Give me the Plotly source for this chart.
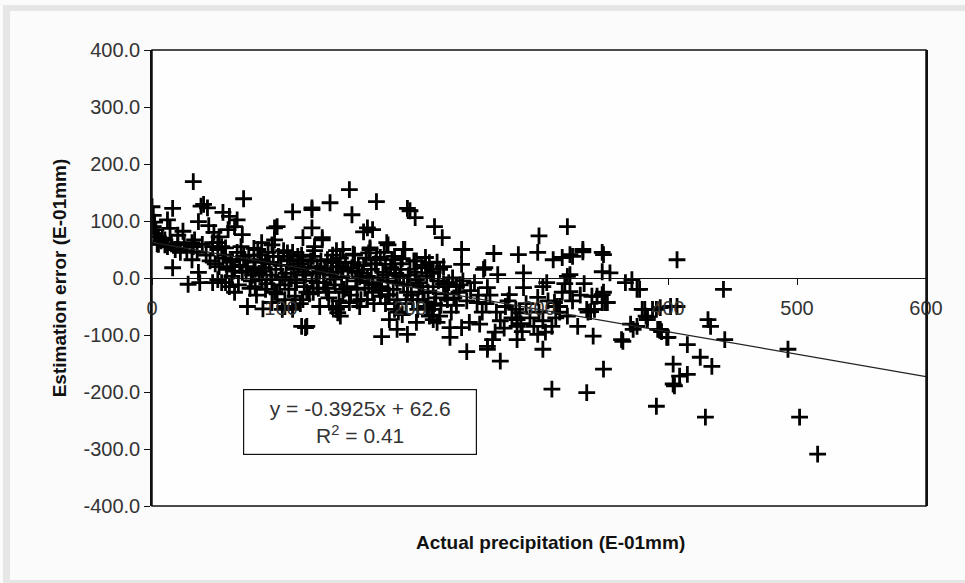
import plotly.graph_objects as go

# ---- data (actual precipitation, estimation error), units E-01mm ----
precip_left = [0, 1, 2, 1, 3, 2, 5, 7, 4, 10, 12, 16, 12, 14, 32, 40, 43, 38, 36, 16, 31, 28, 37, 47, 54, 60,
               33, 32, 47, 54, 51, 10, 5, 20, 31, 39, 47, 51, 57, 36, 55, 8, 15, 18, 22, 25, 27, 35, 42, 45,
               49, 52, 55, 20, 24, 44, 48, 52, 57, 58, 51, 57]
error_left = [125, 110, 98, 90, 85, 78, 72, 65, 60, 58, 55, 122, 102, 87, 169, 129, 123, 126, 99, 18, 32, -11, -8, -8, -8, -15,
              67, 55, 62, 55, 50, 67, 59, 62, 62, 59, 55, 62, 53, 10, 115, 70, 60, 50, 45, 58, 48, 45, 40, 30,
              25, 20, 35, 75, 82, 92, 80, 72, 40, 15, -3, -8]

precip_upper = [60, 66, 70, 59, 71, 109, 124, 124, 138, 153, 155, 174, 167, 164, 171, 198, 200, 204, 219, 225,
                182, 95, 95, 132, 117, 124, 183, 85, 97, 64]
error_upper = [108, 102, 76, 85, 139, 116, 120, 88, 132, 155, 111, 134, 88, 81, 85, 122, 118, 106, 90, 71,
               62, 88, 67, 71, 71, 123, 58, 62, 90, 90]

precip_dense = [169, 196, 148, 132, 177, 186, 181, 212, 226, 169, 195,
                117, 128, 140, 148, 159, 167, 117, 125, 136, 143, 156, 192, 205, 213, 218, 229, 236, 218, 208, 200, 215,
                62, 72, 64, 62, 70, 80, 85, 90, 98, 105, 113, 85, 93, 103, 111, 80, 88, 95, 103, 111, 93, 101, 109, 64, 82,
                61, 66, 68, 73, 75, 77, 79, 83, 84, 87, 89, 91, 92, 96, 99, 100, 102, 104, 106, 107, 110, 112, 114,
                115, 118, 119, 121, 122, 124, 126, 127, 129, 131, 133, 134, 137, 138, 140, 142, 144, 145, 147, 150,
                151, 152, 154, 157, 158, 160, 162, 163, 165, 166, 168, 170, 172, 173, 175, 176, 179, 180, 181, 183,
                185, 187, 189, 191, 193, 195, 197, 199, 201, 203, 206, 207, 209, 211, 214, 216, 217, 220, 222, 224,
                227, 230, 232, 234, 238]
error_dense = [53, 50, 50, 67, 36, 32, 24, 36, 20, 50, 50,
               10, 20, 10, 15, 10, 3, 32, 38, 32, 27, 27, 3, -3, 3, 10, -15, -15, -15, -15, 15, 27,
               32, 32, 20, 3, 10, 15, 32, 45, 38, 32, 38, -3, -3, -3, -3, -15, -20, -25, -38, -32, -43, -55, -55, -25, 50,
               28, 45, 22, 12, 40, -5, 28, 8, 40, 18, -10, 25, 5, 15, -12, 22, 48, 8, -20, 30, 15, -8, 25,
               -45, -15, 5, 18, -28, -5, 48, 8, -18, 30, -8, 15, -35, 5, 40, -12, 20, -40, 2, 28,
               -15, 12, -30, 40, -5, 22, -38, 8, -18, 35, -8, 15, -45, 25, 0, -20, 10, 45, -45, -5,
               18, -20, 8, -60, 25, -12, -45, 5, -30, 30, -55, -8, 18, -42, -25, 8, -65, -35, -5, -48,
               -28, -8, -60, -35, -25]

precip_fill = [63, 67, 71, 74, 76, 78, 81, 86, 88, 94, 97, 101, 105, 108, 113, 116, 120, 123, 128, 130,
               135, 139, 141, 146, 149, 155, 159, 161, 164, 171, 174, 178, 182, 184, 188, 190, 194, 198, 202, 204,
               210, 212, 219, 223, 226, 229, 233, 236, 239, 69, 79, 93, 109, 126, 143, 156, 168, 188, 205, 221]
error_fill = [12, -12, 38, 20, -18, 5, -30, 12, 28, 38, -28, 2, 44, -2, 20, 40, -25, 30, -8, 12,
              -18, 28, -2, 35, -20, 18, -40, 2, 22, -12, 32, -22, 5, -30, 15, -8, 34, -12, -38, 10,
              -25, 22, -45, 15, -10, -38, 0, -48, -12, 55, 52, 58, 45, 55, 48, 42, 44, 38, 30, 28]

precip_lower = [74, 86, 119, 178, 198, 146, 143, 103, 109, 116, 120, 190, 205, 144, 140, 231, 231, 221, 223, 218,
                213, 206, 198, 190, 183, 177, 188, 194, 184, 177, 171, 167, 159, 148, 136, 125, 117, 130, 153, 161,
                215, 218, 146, 244]
error_lower = [-50, -54, -87, -103, -99, -67, -55, -50, -50, -85, -85, -90, -78, -61, -50, -87, -104, -78, -67, -55,
               -50, -38, -25, -38, -29, -15, -55, -64, -73, -32, -25, -38, -20, -25, -25, -25, -38, -50, -43, -50,
               -67, -73, -50, -129]

precip_right = [322, 300, 240, 240, 265, 284, 299, 311, 324, 334, 349, 257, 268, 288, 349, 355, 324, 306, 260, 288,
                324, 277, 299, 312, 316, 341, 349, 349, 340, 330, 342, 252, 274, 285, 246, 254, 266, 264, 283, 283,
                287, 299, 305, 310, 240, 260, 303,
                270, 310, 337, 350, 391, 404, 404, 364, 399, 394, 376, 371, 384, 382, 337, 351, 407, 260, 283,
                407, 443, 388, 394, 402, 384, 392, 400, 415, 431, 433, 444, 493, 425, 434, 415, 409, 405, 429, 502,
                516, 378,
                350, 334, 326, 318, 258, 322, 367, 372, 376, 303, 345, 350, 353, 380, 391, 383, 343, 338, 314, 316,
                322, 365, 373, 395,
                241, 244, 247, 250, 253, 256, 259, 262, 267, 270, 273, 276, 279, 282, 286, 290, 293, 296, 300, 303,
                307, 313, 318, 320, 326, 332, 335]
error_right = [90, 74, 50, 24, 43, 41, 45, 32, 41, 46, 45, 15, 6, 9, 11, 9, 6, -8, -17, -17,
               -24, -29, -34, -43, -50, -32, -29, -43, -59, -85, -102, -43, -50, -61, -78, -81, -95, -108, -85, -108,
               -94, -99, -95, -85, -87, -125, -125,
               -146, -195, -201, -160, -225, -151, -186, -108, -104, -90, -85, -81, -69, -55, -55, -43, -50, -120, -73,
               32, -20, -55, -52, -50, -73, -90, -104, -117, -73, -85, -108, -125, -139, -155, -169, -172, -189, -244, -244,
               -309, -20,
               41, 50, 38, 36, 18, 3, -8, -3, -20, -15, -32, -25, -43, -55, -55, -67, -55, -60, -50, -60,
               -67, -111, -90, -94,
               -5, -40, -22, -8, -30, -60, -45, -30, -60, -75, -88, -40, -70, -55, -80, -45, -70, -85, -60, -75,
               -40, -70, -25, -10, -40, -30, -10]

trend_slope = -0.3925
trend_intercept = 62.6
trend_x = [0, 600]
x_ticks = [0, 100, 200, 300, 400, 500, 600]
y_ticks = [-400, -300, -200, -100, 0, 100, 200, 300, 400]

precip = precip_left + precip_upper + precip_dense + precip_fill + precip_lower + precip_right
error = error_left + error_upper + error_dense + error_fill + error_lower + error_right
trend_y = [trend_slope * v + trend_intercept for v in trend_x]

FONT = "Liberation Sans, Arial, sans-serif"

fig = go.Figure()
fig.add_trace(go.Scatter(
    x=precip, y=error, mode="markers",
    marker=dict(symbol="cross-thin", size=12, color="black",
                line=dict(color="black", width=2.8)),
    hoverinfo="x+y", showlegend=False))
fig.add_trace(go.Scatter(
    x=trend_x, y=trend_y, mode="lines",
    line=dict(color="#222222", width=1.2), showlegend=False, hoverinfo="skip"))

fig.update_layout(
    width=965, height=583,
    margin=dict(l=152, r=39, t=50, b=77),
    paper_bgcolor="#fbfbfb", plot_bgcolor="#fefefe",
    font=dict(family=FONT, color="#1a1a1a"),
    xaxis=dict(range=[0, 600], tickvals=x_ticks, ticktext=[str(v) for v in x_ticks],
               anchor="free", position=0.5, showline=True, linecolor="#111", linewidth=1.3,
               ticks="outside", ticklen=6, tickcolor="#111", tickwidth=1,
               showgrid=False, zeroline=False, tickfont=dict(size=20, family=FONT, color="#333"),
               ticklabelstandoff=6),
    yaxis=dict(range=[-400, 400], tickvals=y_ticks, ticktext=[f"{v:.1f}" for v in y_ticks],
               showline=True, linecolor="#111", linewidth=1.5, mirror=True,
               ticks="outside", ticklen=6, tickcolor="#111", tickwidth=1,
               showgrid=False, zeroline=False, tickfont=dict(size=20, family=FONT, color="#333"),
               title=dict(text="<b>Estimation error (E-01mm)</b>", font=dict(size=19, family=FONT, color="#111"),
                          standoff=12)),
    shapes=[
        dict(type="rect", xref="paper", yref="paper", x0=0, x1=1, y0=0, y1=1,
             line=dict(color="#111", width=1.5), fillcolor="rgba(0,0,0,0)"),
        dict(type="rect", xref="paper", yref="paper", x0=-0.1925, x1=-0.1835, y0=-0.1689, y1=1.0987,
             line=dict(width=0), fillcolor="#e6e6e6", layer="below"),
        dict(type="rect", xref="paper", yref="paper", x0=-0.1925, x1=1.0504, y0=1.0855, y1=1.0987,
             line=dict(width=0), fillcolor="#e6e6e6", layer="below"),
        dict(type="rect", xref="paper", yref="paper", x0=-0.1925, x1=1.0504, y0=-0.1689, y1=-0.1625,
             line=dict(width=0), fillcolor="#e6e6e6", layer="below"),
    ],
    annotations=[
        dict(xref="paper", yref="paper", x=0.2687, y=0.184, xanchor="center", yanchor="middle",
             text="y = -0.3925x + 62.6<br>R<sup>2</sup> = 0.41", showarrow=False,
             font=dict(size=21, family=FONT, color="#333"), align="center",
             width=230, height=62, bordercolor="#111", borderwidth=1.2, bgcolor="#ffffff"),
        dict(xref="paper", yref="paper", x=0.5155, y=-0.081, xanchor="center", yanchor="middle",
             text="<b>Actual precipitation (E-01mm)</b>", showarrow=False,
             font=dict(size=19, family=FONT, color="#111")),
    ],
)

fig.write_html("out.html", config={"displayModeBar": False},
               post_script="document.body.style.margin='0px';")
